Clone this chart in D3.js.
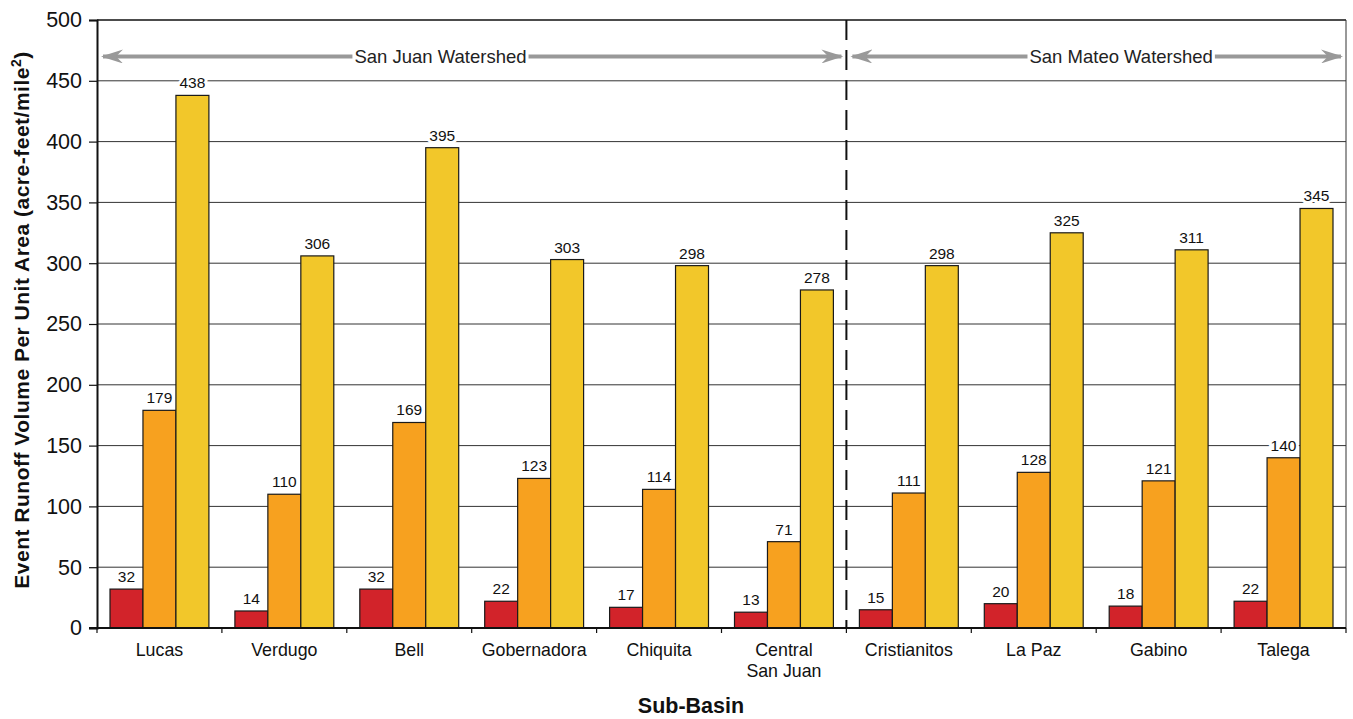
<!DOCTYPE html>
<html><head><meta charset="utf-8">
<script src="https://cdn.jsdelivr.net/npm/d3@7"></script>
<style>body{margin:0;background:#fff;font-family:Arial,"Liberation Sans",sans-serif;}</style>
</head><body><svg id="c" width="1353" height="719"></svg>
<script>
const categories = ["Lucas","Verdugo","Bell","Gobernadora","Chiquita","Central\nSan Juan","Cristianitos","La Paz","Gabino","Talega"];
const series1 = [32,14,32,22,17,13,15,20,18,22];
const series2 = [179,110,169,123,114,71,111,128,121,140];
const series3 = [438,306,395,303,298,278,298,325,311,345];
const yTicks = [0,50,100,150,200,250,300,350,400,450,500];
const colors = ["#d2232a","#f7a11f","#f2c72a"];
const watersheds = [{name:"San Juan Watershed", from:0, to:6, labelAt:2.75},{name:"San Mateo Watershed", from:6, to:10, labelAt:8.2}];

const svg = d3.select("#c");
const L=97, R=1346, T=20, B=628;
const x = d3.scaleBand().domain(d3.range(categories.length)).range([L,R]).paddingInner(0).paddingOuter(0);
const y = d3.scaleLinear().domain([0,500]).range([B,T]);
const sub = d3.scaleBand().domain([0,1,2]).range([13, x.bandwidth()-13]);
const bw = x.bandwidth();

// gridlines
svg.append("g").selectAll("line").data(yTicks.filter(d=>d>0)).join("line")
  .attr("x1",L).attr("x2",R).attr("y1",d=>y(d)).attr("y2",d=>y(d))
  .attr("stroke",d=>d===500?"#111":"#333").attr("stroke-width",d=>d===500?1.5:1);
svg.append("line").attr("x1",R).attr("x2",R).attr("y1",T).attr("y2",B).attr("stroke","#333");

// bars
const allSeries=[series1,series2,series3];
allSeries.forEach((s,si)=>{
  const g=svg.append("g");
  g.selectAll("rect").data(s).join("rect")
    .attr("x",(d,i)=>x(i)+sub(si)).attr("width",sub.bandwidth())
    .attr("y",d=>y(d)).attr("height",d=>B-y(d))
    .attr("fill",colors[si]).attr("stroke","#1a1a1a").attr("stroke-width",1.2);
  g.selectAll("text").data(s).join("text")
    .attr("x",(d,i)=>x(i)+sub(si)+sub.bandwidth()/2).attr("y",d=>y(d)-7)
    .attr("text-anchor","middle").attr("font-size",15.5).attr("fill","#111")
    .attr("paint-order","stroke").attr("stroke","#fff").attr("stroke-width",6)
    .text(d=>d);
});

// y axis
const ya = svg.append("g").attr("transform",`translate(${L},0)`)
  .call(d3.axisLeft(y).tickValues(yTicks).tickSize(8).tickPadding(7));
ya.select(".domain").attr("stroke","#111").attr("stroke-width",2);
ya.selectAll(".tick line").attr("stroke","#111").attr("stroke-width",1.2);
ya.selectAll("text").attr("font-size",21.5).attr("fill","#111").attr("font-family","Arial,Liberation Sans,sans-serif");

// x axis
svg.append("line").attr("x1",L-8).attr("x2",R).attr("y1",B).attr("y2",B).attr("stroke","#111").attr("stroke-width",2);
svg.append("g").selectAll("line").data(d3.range(categories.length+1)).join("line")
  .attr("x1",i=>L+i*bw).attr("x2",i=>L+i*bw)
  .attr("y1",B).attr("y2",B+5).attr("stroke","#111").attr("stroke-width",1.2);
const xl = svg.append("g").selectAll("text").data(categories).join("text")
  .attr("x",(d,i)=>x(i)+bw/2).attr("y",656)
  .attr("text-anchor","middle").attr("font-size",17.8).attr("fill","#111");
xl.each(function(d){
  const lines=d.split("\n"); const t=d3.select(this);
  lines.forEach((ln,k)=>t.append("tspan").attr("x",t.attr("x")).attr("dy",k===0?0:21).text(ln));
});

// axis titles
svg.append("text").attr("x",691).attr("y",713).attr("text-anchor","middle")
  .attr("font-size",21.5).attr("font-weight","bold").attr("fill","#111").text("Sub-Basin");
const yt = svg.append("text").attr("transform","translate(29,320) rotate(-90)").attr("text-anchor","middle")
  .attr("font-size",21).attr("font-weight","bold").attr("fill","#111").attr("letter-spacing",0.5);
yt.append("tspan").text("Event Runoff Volume Per Unit Area (acre-feet/mile");
yt.append("tspan").attr("dy",-8).attr("font-size",14).text("2");
yt.append("tspan").attr("dy",8).text(")");

// divider dashed
const divX = L + 6*bw;
svg.append("line").attr("x1",divX).attr("x2",divX).attr("y1",T).attr("y2",B)
  .attr("stroke","#111").attr("stroke-width",2).attr("stroke-dasharray","20,10");

// watershed arrows
const defs=svg.append("defs");
defs.append("marker").attr("id","ah").attr("viewBox","0 0 22 14").attr("refX",20).attr("refY",7)
  .attr("markerWidth",22).attr("markerHeight",14).attr("markerUnits","userSpaceOnUse").attr("orient","auto-start-reverse")
  .append("path").attr("d","M0,0 L22,7 L0,14 L7,7 Z").attr("fill","#999");
const ay = y(470);
watersheds.forEach(w=>{
  const x0 = L + w.from*bw + 6, x1 = L + w.to*bw - 5;
  const cx = L + w.labelAt*bw;
  const txt = svg.append("text").attr("x",cx).attr("y",ay+6.5).attr("text-anchor","middle")
    .attr("font-size",18.5).attr("fill","#222").text(w.name);
  const bb = txt.node().getBBox();
  svg.append("line").attr("x1",bb.x-2).attr("x2",x0).attr("y1",ay).attr("y2",ay)
    .attr("stroke","#999").attr("stroke-width",4).attr("marker-end","url(#ah)");
  svg.append("line").attr("x1",bb.x+bb.width+2).attr("x2",x1).attr("y1",ay).attr("y2",ay)
    .attr("stroke","#999").attr("stroke-width",4).attr("marker-end","url(#ah)");
});
</script></body></html>
